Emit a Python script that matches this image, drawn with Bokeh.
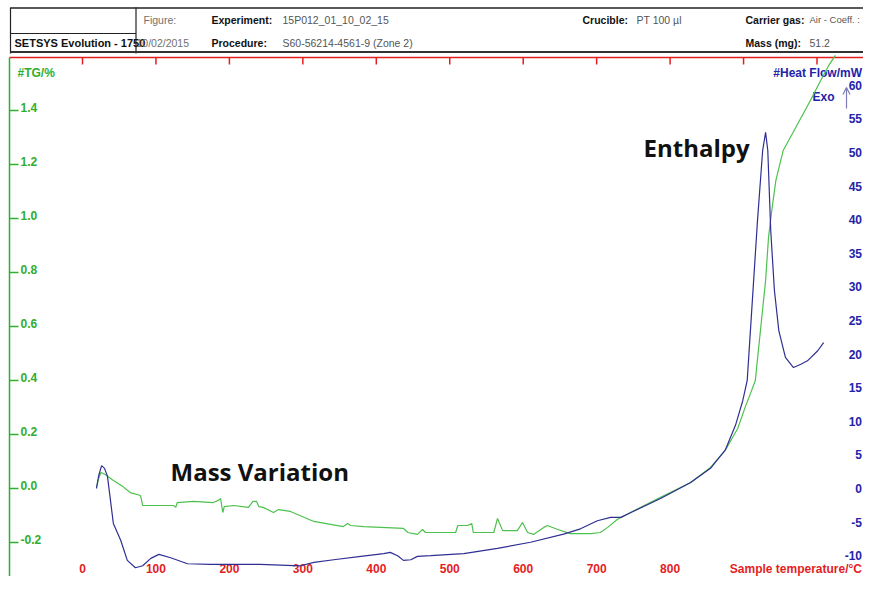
from bokeh.plotting import figure
from bokeh.models import Range1d, Arrow, OpenHead
from bokeh.core.properties import value
from bokeh.embed import file_html
from bokeh.resources import INLINE

# ---------------- data ----------------
# Heat flow (mW) vs sample temperature (°C)
T_HF = [19, 22, 26, 30, 34, 42, 52, 61, 72, 82, 93, 104, 120, 143, 174, 206, 242, 297, 315, 342,
        379, 410, 419, 429, 437, 447, 456, 474, 519, 565, 610, 655, 678, 701, 719, 733, 746, 787, 828, 855,
        875, 889, 899, 905, 912, 919, 926, 930, 933, 937, 942, 948, 957, 968, 978, 987, 1001, 1009]
HEAT_FLOW = [0.0, 1.9, 3.4, 3.0, 1.8, -5.2, -7.7, -10.7, -11.8, -11.5, -10.4, -9.8, -10.3, -11.2, -11.3, -11.3, -11.3, -11.5, -11.0, -10.6,
             -10.1, -9.7, -9.5, -10.0, -10.7, -10.6, -10.1, -10.0, -9.7, -8.9, -8.0, -6.8, -6.0, -4.8, -4.3, -4.3, -3.6, -1.5, 0.9, 3.0,
             5.7, 9.4, 13.1, 16.1, 28.0, 39.9, 50.3, 53.0, 50.3, 38.4, 29.5, 23.5, 19.5, 18.0, 18.5, 19.0, 20.5, 21.7]

# TG (%) vs sample temperature (°C)
T_TG = [19, 22, 25, 31, 42, 55, 65, 79, 82, 106, 124, 127, 129, 151, 178, 185, 188, 191, 193, 206,
        226, 229, 232, 237, 240, 246, 260, 267, 283, 315, 355, 361, 365, 383, 437, 443, 456, 463, 467, 508,
        511, 524, 530, 532, 560, 565, 572, 592, 599, 606, 614, 628, 633, 647, 664, 692, 705, 715, 728, 746,
        787, 828, 855, 875, 892, 903, 910, 916, 923, 930, 934, 939, 944, 954, 974, 991, 1005, 1016, 1025]
TG = [0.004, 0.037, 0.059, 0.052, 0.030, 0.007, -0.015, -0.026, -0.063, -0.063, -0.063, -0.070, -0.052, -0.048, -0.052, -0.044, -0.037, -0.089, -0.067, -0.063,
      -0.070, -0.059, -0.048, -0.048, -0.067, -0.070, -0.089, -0.078, -0.085, -0.122, -0.141, -0.130, -0.137, -0.141, -0.148, -0.163, -0.170, -0.152, -0.163, -0.163,
      -0.137, -0.137, -0.130, -0.163, -0.163, -0.111, -0.156, -0.156, -0.126, -0.163, -0.170, -0.144, -0.137, -0.152, -0.167, -0.167, -0.163, -0.144, -0.115, -0.089,
      -0.033, 0.022, 0.078, 0.141, 0.222, 0.307, 0.356, 0.400, 0.585, 0.770, 0.930, 1.041, 1.141, 1.252, 1.352, 1.437, 1.511, 1.567, 1.604]

X_TICKS = [0, 100, 200, 300, 400, 500, 600, 700, 800]
X_TOP_TICKS = [0, 100, 200, 300, 400, 500, 600, 700, 800, 900, 1000, 1100]
TG_TICKS = [-0.2, 0.0, 0.2, 0.4, 0.6, 0.8, 1.0, 1.2, 1.4]
HF_TICKS = [-10, -5, 0, 5, 10, 15, 20, 25, 30, 35, 40, 45, 50, 55, 60]

X_TITLE = "Sample temperature/°C"
TG_TITLE = "#TG/%"
HF_TITLE = "#Heat Flow/mW"

HEADER_ROW1 = [("Figure:", "n"), ("Experiment:", "b"), ("15P012_01_10_02_15", "n"),
               ("Crucible:", "b"), ("PT 100 µl", "n"), ("Carrier gas:", "b"), ("Air - Coeff. :", "n")]
HEADER_ROW2 = [("SETSYS Evolution - 1750", "b"), ("10/02/2015", "n"), ("Procedure:", "b"),
               ("S60-56214-4561-9 (Zone 2)", "n"), ("Mass (mg):", "b"), ("51.2", "n")]

# ---------------- layout (pixels of the picture) ----------------
PX_PER_DEG = 0.7345
X_ZERO_PX = 82
Y_ZERO_PX = 488
PX_PER_TG = 270.0
PX_PER_MW = 6.72
W, H = 863, 576
RIGHT = W - 1.5
XLAB_Y = 568


def px_x(X):
    return (X - X_ZERO_PX) / PX_PER_DEG


def px_tg(Y):
    return (Y_ZERO_PX - Y) / PX_PER_TG


def px_hf(Y):
    return (Y_ZERO_PX - Y) / PX_PER_MW


GREEN_TXT = "#2FAE2F"
GREEN_LINE = "#4DC14D"
BLUE_TXT = "#2323AA"
BLUE_LINE = "#2F2F93"
RED = "#E41E1E"
FONT = value("Liberation Sans")

p = figure(width=W, height=H, output_backend="svg", toolbar_location=None,
           x_range=Range1d(px_x(0), px_x(W)),
           y_range=Range1d(px_tg(H), px_tg(0)),
           x_axis_location=None, y_axis_location=None,
           min_border=0, min_border_left=0, min_border_right=0,
           min_border_top=0, min_border_bottom=0,
           outline_line_color=None, background_fill_color="white",
           border_fill_color="white")
p.xgrid.visible = False
p.ygrid.visible = False
p.extra_y_ranges = {"hf": Range1d(px_hf(H), px_hf(0))}

# ---------------- header box ----------------
hl = dict(line_color="#222222")
p.segment(x0=[px_x(10)], y0=[px_tg(7.5)], x1=[px_x(900)], y1=[px_tg(7.5)], line_width=1.6, **hl)
p.segment(x0=[px_x(10)], y0=[px_tg(7)], x1=[px_x(10)], y1=[px_tg(53)], line_width=1.2, **hl)
p.segment(x0=[px_x(135.5)], y0=[px_tg(7)], x1=[px_x(135.5)], y1=[px_tg(53)], line_width=1.2, **hl)
p.segment(x0=[px_x(10)], y0=[px_tg(33)], x1=[px_x(135.5)], y1=[px_tg(33)], line_width=1.0, **hl)
p.segment(x0=[px_x(10)], y0=[px_tg(51.5)], x1=[px_x(900)], y1=[px_tg(51.5)], line_width=2.0, line_color="#333333")

ROW1_X = [143, 211, 282, 582, 636, 745, 809]
ROW2_X = [14, 136, 211, 282, 745, 809]
ROW_Y = [19, 42]
for row, xs, yy in ((HEADER_ROW1, ROW1_X, ROW_Y[0]), (HEADER_ROW2, ROW2_X, ROW_Y[1])):
    for (txt, st), xx in zip(row, xs):
        if st == "b":
            col = "#111111"
        elif txt in ("Figure:", "10/02/2015"):
            col = "#707070"
        else:
            col = "#555555"
        if txt.startswith("Air"):
            size = "9.5px"
        elif txt.startswith("SETSYS"):
            size = "11px"
        else:
            size = "10.5px"
        p.text(x=[px_x(xx)], y=[px_tg(yy)], text=[txt], text_font=FONT,
               text_font_size=size, text_font_style="bold" if st == "b" else "normal",
               text_color=col, text_align="left", text_baseline="middle")

# ---------------- axes frame ----------------
p.segment(x0=[px_x(9)], y0=[px_tg(57)], x1=[px_x(900)], y1=[px_tg(57)], line_color=RED, line_width=1.5)
p.segment(x0=[px_x(9)], y0=[px_tg(57)], x1=[px_x(9)], y1=[px_tg(620)], line_color=GREEN_TXT, line_width=1.5)

# top red ticks
p.segment(x0=X_TOP_TICKS, y0=[px_tg(57)] * len(X_TOP_TICKS), x1=X_TOP_TICKS,
          y1=[px_tg(64)] * len(X_TOP_TICKS), line_color=RED, line_width=1.5)

# bottom temperature labels
p.text(x=X_TICKS, y=[px_tg(XLAB_Y)] * len(X_TICKS), text=[str(t) for t in X_TICKS],
       text_font=FONT, text_font_size="12px", text_font_style="bold", text_color=RED,
       text_align="center", text_baseline="middle")
p.text(x=[px_x(RIGHT)], y=[px_tg(XLAB_Y)], text=[X_TITLE], text_font=FONT, text_font_size="12px",
       text_font_style="bold", text_color=RED, text_align="right", text_baseline="middle")

# left TG ticks + labels
p.segment(x0=[px_x(9)] * len(TG_TICKS), y0=TG_TICKS, x1=[px_x(18)] * len(TG_TICKS), y1=TG_TICKS,
          line_color=GREEN_TXT, line_width=1.5)
p.text(x=[px_x(20)] * len(TG_TICKS), y=[t + 3 / PX_PER_TG for t in TG_TICKS],
       text=["%.1f" % t for t in TG_TICKS], text_font=FONT, text_font_size="12px",
       text_font_style="bold", text_color=GREEN_TXT, text_align="left", text_baseline="alphabetic")
p.text(x=[px_x(17)], y=[px_tg(72)], text=[TG_TITLE], text_font=FONT, text_font_size="12px",
       text_font_style="bold", text_color=GREEN_TXT, text_align="left", text_baseline="middle")

# right heat flow labels
p.text(x=[px_x(RIGHT)] * len(HF_TICKS), y=HF_TICKS, y_range_name="hf",
       text=[str(t) for t in HF_TICKS], text_font=FONT, text_font_size="12px",
       text_font_style="bold", text_color=BLUE_TXT, text_align="right", text_baseline="middle")
p.text(x=[px_x(RIGHT)], y=[px_tg(72)], text=[HF_TITLE], text_font=FONT, text_font_size="12px",
       text_font_style="bold", text_color=BLUE_TXT, text_align="right", text_baseline="middle")
p.text(x=[px_x(812)], y=[px_tg(96)], text=["Exo"], text_font=FONT, text_font_size="12px",
       text_font_style="bold", text_color=BLUE_TXT, text_align="left", text_baseline="middle")
p.add_layout(Arrow(end=OpenHead(size=7, line_color="#7C7CB8", line_width=1.2),
                   x_start=px_x(846), y_start=px_tg(108), x_end=px_x(846), y_end=px_tg(87),
                   line_color="#7C7CB8", line_width=1.2))

# ---------------- curves ----------------
p.line(T_TG, TG, line_color=GREEN_LINE, line_width=1.2)
p.line(T_HF, HEAT_FLOW, y_range_name="hf", line_color=BLUE_LINE, line_width=1.2)

# ---------------- annotations ----------------
p.text(x=[px_x(643)], y=[px_tg(147)], text=["Enthalpy"], text_font=value("Open Sans"),
       text_font_size="24px", text_font_style="bold", text_color="#111111",
       text_align="left", text_baseline="alphabetic")
p.text(x=[px_x(170)], y=[px_tg(471)], text=["Mass Variation"], text_font=value("Open Sans"),
       text_font_size="24px", text_font_style="bold", text_color="#111111",
       text_align="left", text_baseline="alphabetic")

open("out.html", "w").write(file_html(p, INLINE))
